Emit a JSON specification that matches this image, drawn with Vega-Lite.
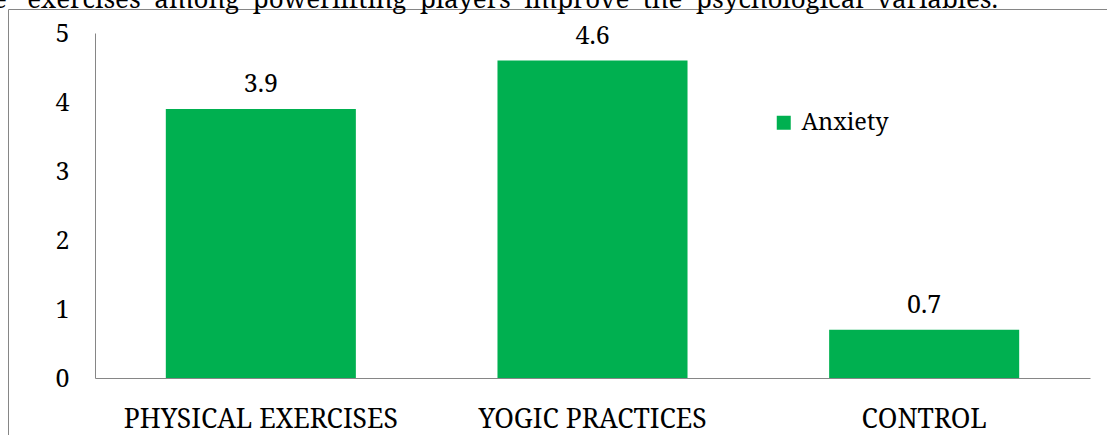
{
  "$schema": "https://vega.github.io/schema/vega-lite/v6.json",
  "width": 1110,
  "height": 440,
  "autosize": {"type": "none"},
  "padding": {"left": 8, "top": 9, "right": -11, "bottom": -14},
  "background": "white",
  "title": {
    "text": "e\u00a0\u00a0\u00a0exercises\u00a0\u00a0among\u00a0\u00a0powerlifting\u00a0\u00a0players\u00a0\u00a0improve\u00a0\u00a0the\u00a0\u00a0psychological\u00a0\u00a0variables.",
    "anchor": "start",
    "frame": "group",
    "baseline": "alphabetic",
    "offset": 0,
    "dx": -15,
    "dy": 25,
    "font": "Noto Serif",
    "fontSize": 26,
    "fontWeight": "normal",
    "color": "#000000"
  },
  "config": {
    "view": {"stroke": "#868686", "strokeWidth": 1},
    "font": "Noto Serif"
  },
  "data": {
    "values": [
      {"group": "PHYSICAL EXERCISES", "value": 3.9, "series": "Anxiety"},
      {"group": "YOGIC PRACTICES", "value": 4.6, "series": "Anxiety"},
      {"group": "CONTROL", "value": 0.7, "series": "Anxiety"}
    ]
  },
  "encoding": {
    "x": {
      "field": "group",
      "type": "nominal",
      "sort": null,
      "scale": {"range": [87, 1082], "paddingInner": 0.427, "paddingOuter": 0.2135},
      "axis": {
        "title": null,
        "orient": "bottom",
        "offset": -71,
        "labelAngle": 0,
        "labelPadding": 28,
        "ticks": false,
        "tickSize": 0,
        "grid": false,
        "domainColor": "#868686",
        "domainWidth": 1,
        "labelFont": "Noto Serif",
        "labelFontSize": 26.5,
        "labelColor": "#000000",
        "labelLimit": 0
      }
    },
    "y": {
      "field": "value",
      "type": "quantitative",
      "scale": {"domain": [0, 5], "range": [369, 24], "nice": false, "zero": true},
      "axis": {
        "title": null,
        "orient": "left",
        "offset": -87,
        "values": [0, 1, 2, 3, 4, 5],
        "ticks": false,
        "tickSize": 0,
        "grid": false,
        "labelPadding": 26,
        "domainColor": "#868686",
        "domainWidth": 1,
        "labelFont": "Noto Serif",
        "labelFontSize": 25,
        "labelColor": "#000000"
      }
    }
  },
  "layer": [
    {
      "mark": {"type": "bar"},
      "encoding": {
        "color": {
          "field": "series",
          "type": "nominal",
          "scale": {"domain": ["Anxiety"], "range": ["#00B050"]},
          "legend": {
            "orient": "none",
            "legendX": 764,
            "legendY": 102,
            "title": null,
            "padding": 0,
            "symbolType": "square",
            "symbolSize": 196,
            "symbolStrokeWidth": 0,
            "labelFont": "Noto Serif",
            "labelFontSize": 23.5,
            "labelColor": "#000000",
            "labelOffset": 6
          }
        }
      }
    },
    {
      "mark": {
        "type": "text",
        "baseline": "alphabetic",
        "dy": -17,
        "font": "Noto Serif",
        "fontSize": 25,
        "color": "#000000"
      },
      "encoding": {
        "text": {"field": "value", "type": "quantitative", "format": ".1f"}
      }
    }
  ]
}
